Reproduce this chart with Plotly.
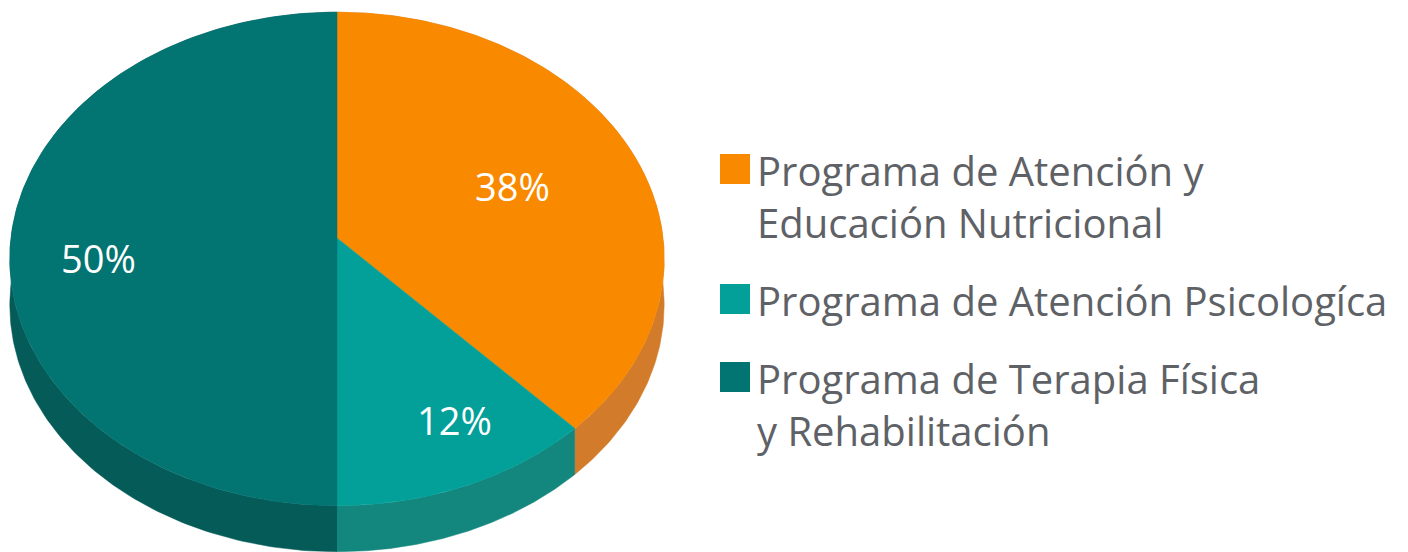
import numpy as np
import plotly.graph_objects as go

# ---------------- data ----------------
categories = [
    "Programa de Atención y\nEducación Nutricional",
    "Programa de Atención Psicologíca",
    "Programa de Terapia Física\ny Rehabilitación",
]
values = [38, 12, 50]
top_colors = ["#F98A00", "#02A098", "#027471"]
side_colors = ["#D27B2A", "#13877E", "#045B58"]

# ---------------- geometry / style ----------------
W, H = 1408, 552
BODY = 8                   # default page margin of the html body
CX, CY = 337, 238          # projected centre of the top face
FX, FY = 326, 245          # projected radii
PERSP = 0.085              # perspective strength
DEPTH = 46                 # side thickness (px)
LABEL_R = [0.59, 0.75, 0.733]
LABEL_DX = [0, 22, 0]
LABEL_DY = [0, 0, 20]
FONT = "Open Sans"


def project(theta_deg, r=1.0):
    t = np.radians(theta_deg)
    X = r * np.sin(t)
    Z = r * np.cos(t)
    w = 1 + PERSP * Z
    return CX + FX * X / w, CY - FY * Z / w


fig = go.Figure()

total = sum(values)
bounds = np.concatenate([[0], np.cumsum(values) / total * 360])

# sides first
for i in range(len(values)):
    a0, a1 = bounds[i], bounds[i + 1]
    th = np.linspace(a0, a1, 200)
    xs, ys = project(th)
    px = list(xs) + list(xs[::-1])
    py = list(ys) + list((ys + DEPTH)[::-1])
    fig.add_trace(go.Scatter(x=px, y=py, mode="lines", fill="toself",
                             fillcolor=side_colors[i],
                             line=dict(color=side_colors[i], width=0.5),
                             hoverinfo="skip", showlegend=False))

# top faces
for i in range(len(values)):
    a0, a1 = bounds[i], bounds[i + 1]
    th = np.linspace(a0, a1, 300)
    xs, ys = project(th)
    px = [CX] + list(xs) + [CX]
    py = [CY] + list(ys) + [CY]
    fig.add_trace(go.Scatter(x=px, y=py, mode="lines", fill="toself",
                             fillcolor=top_colors[i],
                             line=dict(color=top_colors[i], width=0.5),
                             hoverinfo="skip", showlegend=False))

# percentage labels
for i in range(len(values)):
    mid = (bounds[i] + bounds[i + 1]) / 2
    lx, ly = project(mid, LABEL_R[i])
    fig.add_annotation(x=lx + LABEL_DX[i], y=ly + LABEL_DY[i],
                       text=f"{values[i]}%", showarrow=False,
                       font=dict(family=FONT, size=38, color="white"),
                       xanchor="center", yanchor="middle")

# custom legend
LEG_SW_X = 735
LEG_TX = 755
LINE = 52
GAP = 26
y0 = 170
for i, cat in enumerate(categories):
    lines = cat.split("\n")
    fig.add_trace(go.Scatter(x=[LEG_SW_X], y=[y0 - 1], mode="markers",
                             marker=dict(symbol="square", size=30,
                                         color=top_colors[i]),
                             hoverinfo="skip", showlegend=False))
    for j, ln in enumerate(lines):
        fig.add_annotation(x=LEG_TX, y=y0 + j * LINE, text=ln,
                           showarrow=False, xanchor="left", yanchor="middle",
                           font=dict(family=FONT, size=40, color="#5E6166"))
    y0 += len(lines) * LINE + GAP

fig.update_layout(
    width=W - BODY, height=H - BODY,
    margin=dict(l=0, r=0, t=0, b=0),
    paper_bgcolor="white", plot_bgcolor="white",
    xaxis=dict(range=[BODY, W], visible=False, fixedrange=True),
    yaxis=dict(range=[H, BODY], visible=False, fixedrange=True),
    showlegend=False,
)

fig.write_html("out.html")
